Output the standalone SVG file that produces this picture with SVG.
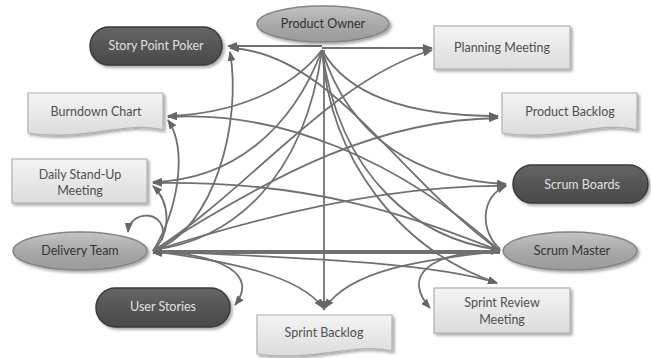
<svg xmlns="http://www.w3.org/2000/svg" width="651" height="358" viewBox="0 0 651 358">
<defs>
<linearGradient id="gEll" x1="0" y1="0" x2="0" y2="1"><stop offset="0" stop-color="#c4c4c4"/><stop offset="0.5" stop-color="#a9a9a9"/><stop offset="1" stop-color="#9a9a9a"/></linearGradient>
<linearGradient id="gDark" x1="0" y1="0" x2="0" y2="1"><stop offset="0" stop-color="#666"/><stop offset="0.5" stop-color="#555"/><stop offset="1" stop-color="#4a4a4a"/></linearGradient>
<linearGradient id="gBox" x1="0" y1="0" x2="0" y2="1"><stop offset="0" stop-color="#f4f4f4"/><stop offset="1" stop-color="#dcdcdc"/></linearGradient>
<filter id="sh" x="-10%" y="-20%" width="125%" height="150%"><feDropShadow dx="2" dy="2" stdDeviation="1.5" flood-color="#000" flood-opacity="0.35"/></filter>
<marker id="ah" viewBox="0 0 10 8" refX="9" refY="4" markerWidth="10" markerHeight="8" markerUnits="userSpaceOnUse" orient="auto"><path d="M0,0 L10,4 L0,8 Z" fill="#666"/></marker>
<style>
.e{fill:none;stroke:#707070;stroke-width:1.8;marker-end:url(#ah)}
.ell{fill:url(#gEll);stroke:#848484;stroke-width:1.5;filter:url(#sh)}
.dk{fill:url(#gDark);stroke:#3a3a3a;stroke-width:1.5;filter:url(#sh)}
.bx{fill:url(#gBox);stroke:#b0b0b0;stroke-width:1.2;filter:url(#sh)}
text{font-family:Lato,"Open Sans",sans-serif;font-size:12.5px;text-anchor:middle}
.t1{fill:#333}
.t2{fill:#e0e0e0}
.t3{fill:#505050}
</style>
</defs>
<g id="connectors">
<path class="e" d="M322,46 L228,46"/>
<path class="e" d="M322,48 L432,48"/>
<path class="e" d="M322,50 C290,92 230,114 168,116"/>
<path class="e" d="M322,50 C350,100 420,116 498,116"/>
<path class="e" d="M322,50 C350,140 420,180 506,184"/>
<path class="e" d="M322,50 C292,130 232,180 153,182"/>
<path class="e" d="M322,50 C340,180 420,240 500,250"/>
<path class="e" d="M322,50 C304,180 232,240 153,250"/>
<path class="e" d="M324,50 L324,310"/>
<path class="e" d="M322,50 C330,160 400,250 497,283"/>
<path class="e" d="M153,251 C215,230 242,120 230,52"/>
<path class="e" d="M153,251 C178,210 188,150 168,120"/>
<path class="e" d="M153,251 C172,232 170,202 153,186"/>
<path class="e" d="M153,251 C250,190 330,80 432,50"/>
<path class="e" d="M153,251 C280,170 380,120 498,118"/>
<path class="e" d="M153,251 C280,210 400,185 506,186"/>
<path class="e" d="M153,251 L500,251"/>
<path class="e" d="M153,251 C300,258 430,262 497,283"/>
<path class="e" d="M153,251 C230,262 300,275 323,308"/>
<path class="e" d="M153,251 C225,255 258,275 235,305"/>
<path class="e" d="M162,240 C170,210 130,208 128,232"/>
<path class="e" d="M500,251 C400,180 330,52 230,48"/>
<path class="e" d="M500,251 C400,160 280,110 168,117"/>
<path class="e" d="M500,251 C420,220 320,180 153,183"/>
<path class="e" d="M500,253 L153,253"/>
<path class="e" d="M500,249 C480,232 480,196 506,186"/>
<path class="e" d="M500,251 C420,252 405,280 430,308"/>
<path class="e" d="M500,251 C420,260 350,270 325,308"/>
</g>
<g id="product-owner"><ellipse class="ell" cx="323" cy="24" rx="66" ry="18"/><text class="t1" x="323" y="28">Product Owner</text></g>
<g id="story-point-poker"><rect class="dk" x="90" y="27" width="132" height="38" rx="19"/><text class="t2" x="156" y="50">Story Point Poker</text></g>
<g id="planning-meeting"><rect class="bx" x="434" y="26" width="136" height="43"/><text class="t3" x="502" y="52">Planning Meeting</text></g>
<g id="burndown-chart"><path class="bx" d="M28,93 H163 V130 C125,120 85,142 28,133 Z"/><text class="t3" x="96" y="116">Burndown Chart</text></g>
<g id="product-backlog"><path class="bx" d="M502,93 H637 V130 C600,120 560,142 502,133 Z"/><text class="t3" x="570" y="116">Product Backlog</text></g>
<g id="daily-standup"><rect class="bx" x="12" y="159" width="135" height="44"/><text class="t3" x="80" y="179">Daily Stand-Up</text><text class="t3" x="80" y="195">Meeting</text></g>
<g id="delivery-team"><ellipse class="ell" cx="80" cy="251" rx="67" ry="19"/><text class="t1" x="80" y="255">Delivery Team</text></g>
<g id="user-stories"><rect class="dk" x="96" y="288" width="134" height="39" rx="19.5"/><text class="t2" x="163" y="311">User Stories</text></g>
<g id="sprint-backlog"><path class="bx" d="M257,315 H392 V351 C355,342 315,362 257,354 Z"/><text class="t3" x="324" y="337">Sprint Backlog</text></g>
<g id="scrum-boards"><rect class="dk" x="513" y="165" width="135" height="38" rx="19"/><text class="t2" x="582" y="189">Scrum Boards</text></g>
<g id="scrum-master"><ellipse class="ell" cx="570" cy="251" rx="67" ry="19"/><text class="t1" x="572" y="255">Scrum Master</text></g>
<g id="sprint-review"><rect class="bx" x="434" y="288" width="136" height="45"/><text class="t3" x="502" y="307">Sprint Review</text><text class="t3" x="502" y="324">Meeting</text></g>
</svg>
